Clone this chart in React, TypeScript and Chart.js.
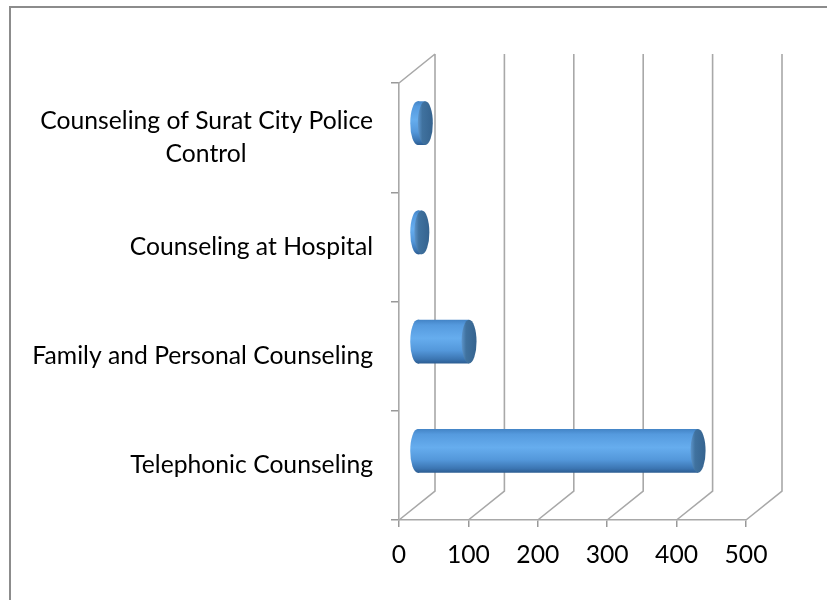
import React, { useEffect, useRef } from 'react';
import { Chart, registerables } from 'chart.js';

Chart.register(...registerables);

const FONT_FAMILY = 'Lato, "Open Sans", sans-serif';
const FONT_SIZE = 24.7;

const categories: (string | string[])[] = [
  ['Counseling of Surat City Police', 'Control'],
  'Counseling at Hospital',
  'Family and Personal Counseling',
  'Telephonic Counseling',
];
const counts = [12, 7, 75, 405];
const xTickValues = [0, 100, 200, 300, 400, 500];

const DX = 36;
const DY = -29;
const CAP_RX = 7.5;

function centeredLines(label: string | string[]): string | string[] {
  if (!Array.isArray(label)) return label;
  const c = document.createElement('canvas').getContext('2d');
  if (!c) return label;
  c.font = `${FONT_SIZE}px ${FONT_FAMILY}`;
  const widths = label.map((l) => c.measureText(l).width);
  const widest = Math.max(...widths);
  const sp = c.measureText(' ').width || 5;
  return label.map((l, i) => l + ' '.repeat(Math.round((widest - widths[i]) / 2 / sp)));
}

function bodyGradient(ctx: CanvasRenderingContext2D, yc: number, half: number): any {
  if (!isFinite(yc) || !isFinite(half) || half <= 0) return '#5aa0e4';
  const g = ctx.createLinearGradient(0, yc - half, 0, yc + half);
  g.addColorStop(0, '#4384c6');
  g.addColorStop(0.12, '#559ade');
  g.addColorStop(0.42, '#66adee');
  g.addColorStop(0.7, '#5498db');
  g.addColorStop(0.9, '#3c76b3');
  g.addColorStop(1, '#2c5d92');
  return g;
}

const frame3d = {
  id: 'frame3d',
  beforeDraw(chart: any) {
    const { ctx, chartArea: a, scales } = chart;
    ctx.save();
    ctx.fillStyle = '#ffffff';
    ctx.fillRect(0, 0, chart.width, chart.height);
    ctx.strokeStyle = '#8c8c8c';
    ctx.lineWidth = 2;
    ctx.beginPath();
    ctx.moveTo(10, chart.height);
    ctx.lineTo(10, 7);
    ctx.lineTo(chart.width, 7);
    ctx.stroke();
    ctx.strokeStyle = '#a8a8a8';
    ctx.lineWidth = 1.6;
    ctx.beginPath();
    ctx.moveTo(a.left, a.top);
    ctx.lineTo(a.left + DX, a.top + DY);
    for (const v of xTickValues) {
      const px = scales.x.getPixelForValue(v);
      ctx.moveTo(px, a.bottom);
      ctx.lineTo(px + DX, a.bottom + DY);
      ctx.lineTo(px + DX, a.top + DY);
    }
    ctx.stroke();
    ctx.restore();
  },
  beforeDatasetsDraw(chart: any) {
    chart.ctx.save();
    chart.ctx.translate(DX / 2, DY / 2);
  },
  afterDatasetsDraw(chart: any) {
    const ctx = chart.ctx as CanvasRenderingContext2D;
    const meta = chart.getDatasetMeta(0);
    meta.data.forEach((bar: any) => {
      const x = bar.x, y = bar.y, base = bar.base, height = bar.height;
      if (![x, y, base, height].every((n) => isFinite(n))) return;
      const ry = Math.abs(height) / 2;
      ctx.fillStyle = bodyGradient(ctx, y, ry);
      ctx.beginPath();
      ctx.ellipse(base, y, CAP_RX, ry, 0, Math.PI / 2, Math.PI * 1.5);
      ctx.lineTo(base + 1.5, y - ry);
      ctx.lineTo(base + 1.5, y + ry);
      ctx.closePath();
      ctx.fill();
      const g = ctx.createLinearGradient(x - CAP_RX, 0, x + CAP_RX, 0);
      g.addColorStop(0, '#5d95cb');
      g.addColorStop(0.3, '#40729f');
      g.addColorStop(1, '#35638f');
      ctx.fillStyle = g;
      ctx.beginPath();
      ctx.ellipse(x, y, CAP_RX, ry, 0, 0, Math.PI * 2);
      ctx.fill();
    });
    ctx.restore();
  },
};

export default function App() {
  const ref = useRef<HTMLCanvasElement>(null);
  useEffect(() => {
    if (!ref.current) return;
    const labels = categories.map(centeredLines);
    const chart = new Chart(ref.current, {
      type: 'bar',
      data: {
        labels,
        datasets: [
          {
            data: counts,
            clip: false as any,
            borderWidth: 0,
            categoryPercentage: 1,
            barPercentage: 0.4,
            backgroundColor: (c: any) => {
              const ch = c.chart;
              const ys = ch.scales && ch.scales.y;
              if (!ys || c.dataIndex === undefined) return '#5aa0e4';
              const yc = ys.getPixelForValue(c.dataIndex);
              const half = ((ys.bottom - ys.top) / categories.length) * 0.4 / 2;
              return bodyGradient(ch.ctx, yc, half);
            },
          },
        ],
      },
      options: {
        indexAxis: 'y',
        responsive: false,
        animation: false,
        devicePixelRatio: 1,
        layout: { padding: { left: 0, top: 83, right: 81, bottom: 0 } },
        plugins: { legend: { display: false }, tooltip: { enabled: false } },
        scales: {
          x: {
            type: 'linear',
            min: 0,
            max: 500,
            afterFit: (s: any) => {
              s.height = 80;
            },
            ticks: {
              stepSize: 100,
              padding: 13,
              color: '#000',
              font: { family: FONT_FAMILY, size: FONT_SIZE },
            },
            grid: { drawOnChartArea: false, drawTicks: true, tickLength: 7, color: '#999', lineWidth: 1.5 },
            border: { display: true, color: '#a8a8a8', width: 1.6 },
          },
          y: {
            type: 'category',
            afterFit: (s: any) => {
              s.width = 399;
            },
            ticks: {
              autoSkip: false,
              padding: 18,
              color: '#000',
              crossAlign: 'near',
              font: { family: FONT_FAMILY, size: FONT_SIZE, lineHeight: 1.34 },
            },
            grid: { offset: true, drawOnChartArea: false, drawTicks: true, tickLength: 8, color: '#999', lineWidth: 1.5 },
            border: { display: true, color: '#a8a8a8', width: 1.6 },
          },
        },
      },
      plugins: [frame3d],
    } as any);
    return () => chart.destroy();
  }, []);
  return (
    <div style={{ position: 'absolute', left: 0, top: 0, width: 827, height: 600, background: '#fff' }}>
      <canvas ref={ref} width={827} height={600} style={{ display: 'block' }} />
    </div>
  );
}
